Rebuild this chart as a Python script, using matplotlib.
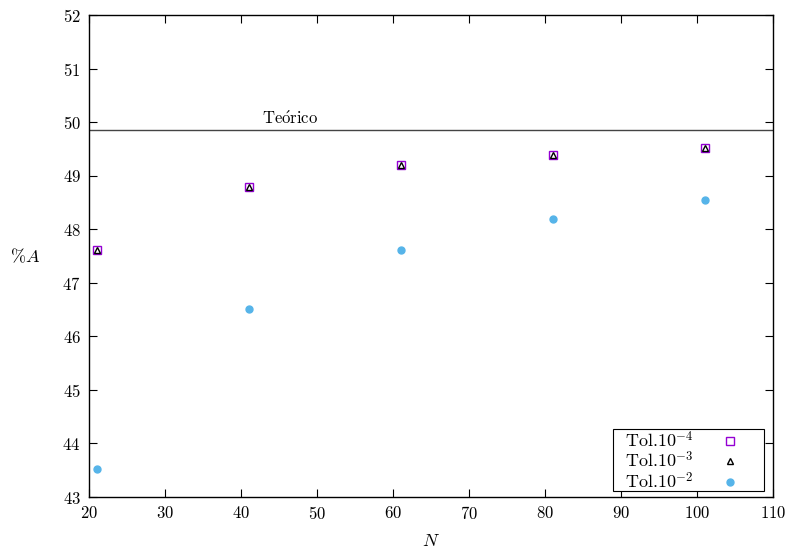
import matplotlib
matplotlib.use("Agg")
import matplotlib.pyplot as plt

plt.rcParams["font.family"] = ["cmr10", "DejaVu Serif"]
plt.rcParams["mathtext.fontset"] = "cm"
plt.rcParams["axes.formatter.use_mathtext"] = True

N = [21, 41, 61, 81, 101]
tol_1e4 = [47.61, 48.79, 49.20, 49.385, 49.52]
tol_1e3 = [47.61, 48.79, 49.20, 49.385, 49.52]
tol_1e2 = [43.52, 46.51, 47.61, 48.19, 48.55]
teorico = 49.85

x_ticks = list(range(20, 111, 10))
y_ticks = list(range(43, 53))

fig = plt.figure(figsize=(7.9, 5.52), dpi=100)
ax = fig.add_axes([89 / 790, 1 - 497 / 552, 684 / 790, 482 / 552])

ax.axhline(teorico, color="#444444", linewidth=1.0)
ax.text(42.8, teorico + 0.23, r"Te$\mathrm{\acute{o}}$rico", fontsize=12,
        va="center", ha="left")

ax.plot(N, tol_1e4, linestyle="none", marker="s", markersize=5.2,
        markerfacecolor="none", markeredgecolor="#9400D3", markeredgewidth=1.0,
        label=r"  Tol.$10^{-4}$")
ax.plot(N, tol_1e3, linestyle="none", marker="^", markersize=5,
        markerfacecolor="none", markeredgecolor="black", markeredgewidth=1.0,
        label=r"  Tol.$10^{-3}$")
ax.plot(N, tol_1e2, linestyle="none", marker="o", markersize=5,
        color="#56B4E9", label=r"  Tol.$10^{-2}$")

ax.set_xlim(20, 110)
ax.set_ylim(43, 52)
ax.set_xticks(x_ticks)
ax.set_yticks(y_ticks)
ax.tick_params(direction="in", length=6, width=0.8, top=True, right=True,
               labelsize=12, pad=6)
for spine in ax.spines.values():
    spine.set_linewidth(1.0)

ax.set_xlabel(r"$N$", fontsize=13, labelpad=8)
ax.set_ylabel(r"$\%A$", fontsize=13, rotation=0, labelpad=27, va="center")

leg = ax.legend(loc="lower right", bbox_to_anchor=(1 - 9 / 684, 6 / 482),
                borderaxespad=0, markerfirst=False, fancybox=False,
                edgecolor="black", framealpha=1.0, fontsize=13,
                handletextpad=0.1, labelspacing=0.0, borderpad=0.0,
                handlelength=3.8)
leg.get_frame().set_linewidth(0.8)

fig.savefig("out.png", dpi=100)
